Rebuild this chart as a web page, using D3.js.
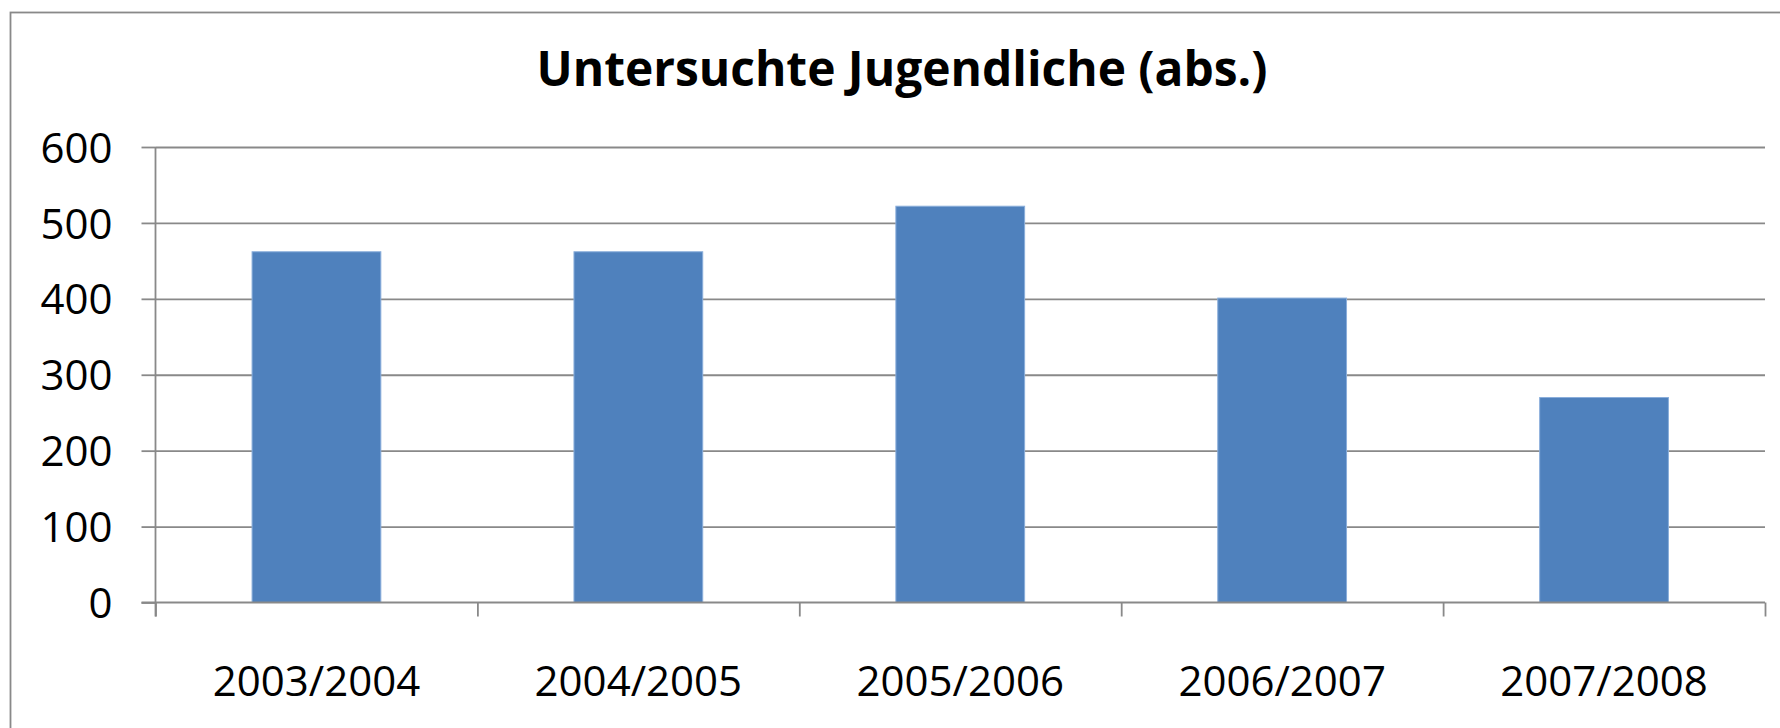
<!DOCTYPE html>
<html>
<head>
<meta charset="utf-8">
<script src="https://cdn.jsdelivr.net/npm/d3@7"></script>
<style>
  body { margin: 0; background: #fff; }
  text { font-family: "Open Sans", "Liberation Sans", sans-serif; fill: #000; }
  .axis path, .axis line { stroke: #898989; stroke-width: 1.8; }
  .grid line { stroke: #898989; stroke-width: 1.8; }
  .grid path { display: none; }
</style>
</head>
<body>
<svg class="canvas"></svg>
<script>
var title = "Untersuchte Jugendliche (abs.)";
var years = ["2003/2004", "2004/2005", "2005/2006", "2006/2007", "2007/2008"];
var counts = [462, 462, 522, 401, 270];
var yTicks = [0, 100, 200, 300, 400, 500, 600];

var width = 1780;
var height = 728;
var plotLeft = 155.5, plotTop = 147, plotRight = 1765, plotBottom = 602.5;
var plotW = plotRight - plotLeft;
var plotH = plotBottom - plotTop;

var svg = d3.select(".canvas")
  .attr("width", width)
  .attr("height", height);

// outer chart border (runs off the right and bottom edges)
svg.append("rect")
  .attr("x", 10.5)
  .attr("y", 12.5)
  .attr("width", width)
  .attr("height", height)
  .attr("fill", "none")
  .attr("stroke", "#898989")
  .attr("stroke-width", 1.8);

svg.append("text")
  .attr("x", 902)
  .attr("y", 86)
  .attr("text-anchor", "middle")
  .attr("font-size", 48)
  .attr("font-weight", "bold")
  .attr("textLength", 731)
  .attr("lengthAdjust", "spacingAndGlyphs")
  .text(title);

var canvas = svg.append("g")
  .attr("transform", "translate(" + plotLeft + "," + plotTop + ")");

var y = d3.scaleLinear().domain([0, 600]).range([plotH, 0]);
var x = d3.scaleBand().domain(years).range([0, plotW]).paddingInner(0.6).paddingOuter(0.3);
var xEdges = d3.scaleLinear().domain([0, years.length]).range([0, plotW]);

// gridlines
canvas.append("g")
  .attr("class", "grid")
  .call(d3.axisLeft(y).tickValues(yTicks.slice(1)).tickSize(-plotW).tickFormat(""));

// bars
canvas.selectAll("rect.bar")
  .data(counts)
  .enter()
  .append("rect")
  .attr("class", "bar")
  .attr("x", function(d, i) { return x(years[i]); })
  .attr("y", function(d) { return y(d); })
  .attr("width", x.bandwidth())
  .attr("height", function(d) { return plotH - y(d); })
  .attr("fill", "#4f81bd")
  .attr("stroke", "#8aaedb")
  .attr("stroke-width", 1);

// y axis
var yAxis = canvas.append("g")
  .attr("class", "axis")
  .call(d3.axisLeft(y).tickValues(yTicks).tickSize(14).tickSizeOuter(0).tickPadding(29));
yAxis.selectAll("text").attr("font-size", 42).attr("dy", "0.36em");
yAxis.select(".domain").attr("d", "M0,0V" + (plotH + 14));

// x axis: boundary ticks
canvas.append("g")
  .attr("class", "axis")
  .attr("transform", "translate(0," + plotH + ")")
  .call(d3.axisBottom(xEdges).ticks(years.length).tickSize(14).tickSizeOuter(0).tickFormat(""))
  .select(".domain").attr("d", "M-14,0H" + plotW);

// x labels
var xLab = canvas.append("g")
  .attr("transform", "translate(0," + plotH + ")")
  .call(d3.axisBottom(x).tickSize(0));
xLab.select(".domain").remove();
xLab.selectAll("text")
  .attr("font-size", 42)
  .attr("y", 93.5)
  .attr("dy", 0);
</script>
</body>
</html>
